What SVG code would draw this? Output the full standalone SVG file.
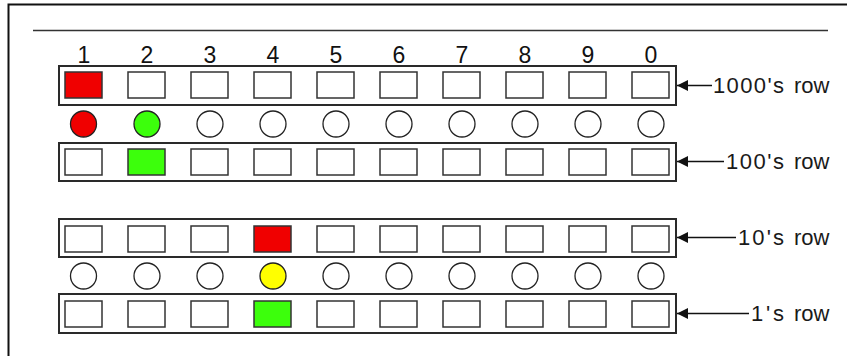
<svg xmlns="http://www.w3.org/2000/svg" width="847" height="356" viewBox="0 0 847 356">
<style>
.frame{fill:#fff;stroke:#2a2a2a;stroke-width:2}
.cell{fill:#fff;stroke:#333;stroke-width:1.5}
.dot{fill:#fff;stroke:#222;stroke-width:1.3}
.num{font-family:"Liberation Sans",Arial,sans-serif;font-size:23px;fill:#111;text-anchor:middle}
.lbl{font-family:"Liberation Sans",Arial,sans-serif;font-size:22px;fill:#1a1a1a}
.red{fill:#f00000}
.green{fill:#3cff0c}
.yellow{fill:#ffff00}
.conn{stroke:#111;stroke-width:1.3;fill:none}
</style>
<defs>
<marker id="ah" markerWidth="12" markerHeight="12" refX="11" refY="6" orient="auto" markerUnits="userSpaceOnUse">
<path d="M0,0.5 L11,6 L0,11.5 Z" fill="#111"/>
</marker>
<rect id="c" x="-18.5" y="-13" width="37" height="26"/>
</defs>
<rect width="847" height="356" fill="#fff"/>
<g id="border" fill="none" stroke="#111" stroke-width="2">
<path d="M8.5,356 V4.5 H847"/>
</g>
<line x1="33" y1="30.5" x2="828" y2="30.5" stroke="#333" stroke-width="1.5"/>

<g id="column-numbers">
<text class="num" x="84" y="63">1</text>
<text class="num" x="147" y="63">2</text>
<text class="num" x="210" y="63">3</text>
<text class="num" x="273" y="63">4</text>
<text class="num" x="336" y="63">5</text>
<text class="num" x="399" y="63">6</text>
<text class="num" x="462" y="63">7</text>
<text class="num" x="525" y="63">8</text>
<text class="num" x="588" y="63">9</text>
<text class="num" x="651" y="63">0</text>
</g>

<g id="row-1000">
<rect class="frame" x="59" y="66" width="617" height="39"/>
<g transform="translate(0,85)">
<use href="#c" x="83.5" class="cell red"/>
<use href="#c" x="146.5" class="cell"/>
<use href="#c" x="209.5" class="cell"/>
<use href="#c" x="272.5" class="cell"/>
<use href="#c" x="335.5" class="cell"/>
<use href="#c" x="398.5" class="cell"/>
<use href="#c" x="461.5" class="cell"/>
<use href="#c" x="524.5" class="cell"/>
<use href="#c" x="587.5" class="cell"/>
<use href="#c" x="650.5" class="cell"/>
</g>
</g>

<g id="beads-upper">
<circle class="dot red" cx="83.5" cy="124" r="13"/>
<circle class="dot green" cx="147" cy="124" r="13"/>
<circle class="dot" cx="210" cy="124" r="13"/>
<circle class="dot" cx="273" cy="124" r="13"/>
<circle class="dot" cx="336" cy="124" r="13"/>
<circle class="dot" cx="399" cy="124" r="13"/>
<circle class="dot" cx="462" cy="124" r="13"/>
<circle class="dot" cx="525" cy="124" r="13"/>
<circle class="dot" cx="588" cy="124" r="13"/>
<circle class="dot" cx="651" cy="124" r="13"/>
</g>

<g id="row-100">
<rect class="frame" x="59" y="143" width="617" height="38"/>
<g transform="translate(0,162)">
<use href="#c" x="83.5" class="cell"/>
<use href="#c" x="146.5" class="cell green"/>
<use href="#c" x="209.5" class="cell"/>
<use href="#c" x="272.5" class="cell"/>
<use href="#c" x="335.5" class="cell"/>
<use href="#c" x="398.5" class="cell"/>
<use href="#c" x="461.5" class="cell"/>
<use href="#c" x="524.5" class="cell"/>
<use href="#c" x="587.5" class="cell"/>
<use href="#c" x="650.5" class="cell"/>
</g>
</g>

<g id="row-10">
<rect class="frame" x="59" y="219" width="617" height="38"/>
<g transform="translate(0,239)">
<use href="#c" x="83.5" class="cell"/>
<use href="#c" x="146.5" class="cell"/>
<use href="#c" x="209.5" class="cell"/>
<use href="#c" x="272.5" class="cell red"/>
<use href="#c" x="335.5" class="cell"/>
<use href="#c" x="398.5" class="cell"/>
<use href="#c" x="461.5" class="cell"/>
<use href="#c" x="524.5" class="cell"/>
<use href="#c" x="587.5" class="cell"/>
<use href="#c" x="650.5" class="cell"/>
</g>
</g>

<g id="beads-lower">
<circle class="dot" cx="83.5" cy="276" r="13"/>
<circle class="dot" cx="147" cy="276" r="13"/>
<circle class="dot" cx="210" cy="276" r="13"/>
<circle class="dot yellow" cx="273" cy="276" r="13"/>
<circle class="dot" cx="336" cy="276" r="13"/>
<circle class="dot" cx="399" cy="276" r="13"/>
<circle class="dot" cx="462" cy="276" r="13"/>
<circle class="dot" cx="525" cy="276" r="13"/>
<circle class="dot" cx="588" cy="276" r="13"/>
<circle class="dot" cx="651" cy="276" r="13"/>
</g>

<g id="row-1">
<rect class="frame" x="59" y="294" width="617" height="39"/>
<g transform="translate(0,314)">
<use href="#c" x="83.5" class="cell"/>
<use href="#c" x="146.5" class="cell"/>
<use href="#c" x="209.5" class="cell"/>
<use href="#c" x="272.5" class="cell green"/>
<use href="#c" x="335.5" class="cell"/>
<use href="#c" x="398.5" class="cell"/>
<use href="#c" x="461.5" class="cell"/>
<use href="#c" x="524.5" class="cell"/>
<use href="#c" x="587.5" class="cell"/>
<use href="#c" x="650.5" class="cell"/>
</g>
</g>

<g id="connectors">
<line class="conn" x1="712" y1="85.5" x2="677" y2="85.5" marker-end="url(#ah)"/>
<line class="conn" x1="724" y1="161.5" x2="677" y2="161.5" marker-end="url(#ah)"/>
<line class="conn" x1="736" y1="237.5" x2="677" y2="237.5" marker-end="url(#ah)"/>
<line class="conn" x1="749" y1="313.5" x2="677" y2="313.5" marker-end="url(#ah)"/>
</g>

<g id="label-1000"><text class="lbl" y="93"><tspan x="713" textLength="71" lengthAdjust="spacing">1000's</tspan> <tspan x="794">row</tspan></text></g>
<g id="label-100"><text class="lbl" y="169"><tspan x="726" textLength="58" lengthAdjust="spacing">100's</tspan> <tspan x="794">row</tspan></text></g>
<g id="label-10"><text class="lbl" y="245"><tspan x="738" textLength="46" lengthAdjust="spacing">10's</tspan> <tspan x="794">row</tspan></text></g>
<g id="label-1"><text class="lbl" y="321"><tspan x="751" textLength="33" lengthAdjust="spacing">1's</tspan> <tspan x="794">row</tspan></text></g>
</svg>
